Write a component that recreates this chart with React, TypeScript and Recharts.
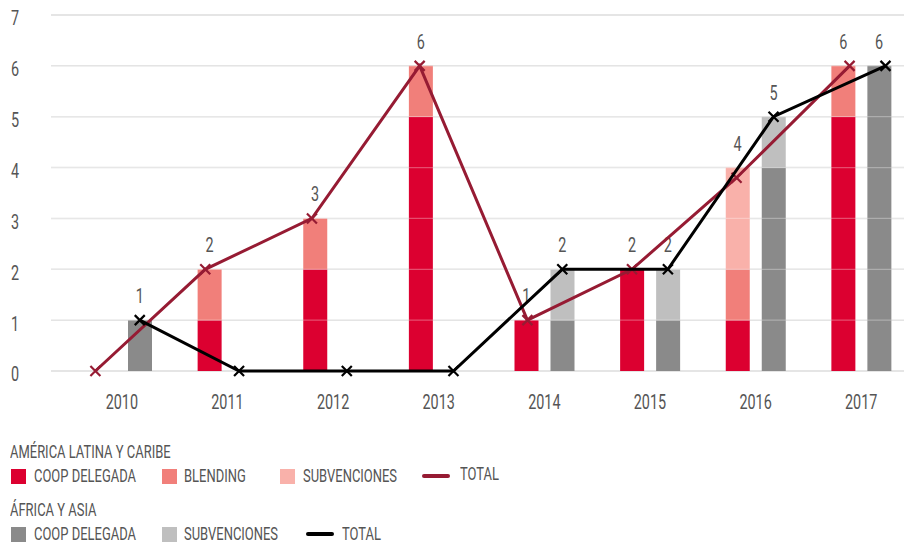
import { ComposedChart, Bar, Scatter, XAxis, YAxis, CartesianGrid, ReferenceLine } from 'recharts'

const years = ['2010', '2011', '2012', '2013', '2014', '2015', '2016', '2017']
const latamCoop = [0, 1, 2, 5, 1, 2, 1, 5]
const latamBlending = [0, 1, 1, 1, 0, 0, 1, 1]
const latamSubv = [0, 0, 0, 0, 0, 0, 2, 0]
const africaCoop = [1, 0, 0, 0, 1, 1, 4, 6]
const africaSubv = [0, 0, 0, 0, 1, 1, 1, 0]
// total lines, as drawn (x read in category units, 0 = 2010)
const latamLineX = [-0.25, 0.79, 1.8, 2.82, 3.84, 4.83, 5.82, 6.89]
const latamLineY = [0, 2, 3, 6, 1, 2, 3.8, 6]
const africaLineX = [0.17, 1.11, 2.13, 3.14, 4.17, 5.17, 6.17, 7.23]
const africaLineY = [1, 0, 0, 0, 2, 2, 5, 6]
const yTicks = [0, 1, 2, 3, 4, 5, 6, 7]

const FONT = 'Roboto, sans-serif'
const SX = 0.72 // squeeze to mimic the condensed face
const TEXT = '#555'
const RED = '#dc0030'
const SALMON = '#f17f7a'
const PINK = '#f9b1aa'
const WINE = '#961b33'
const GRAY = '#8a8a8a'
const LIGHTGRAY = '#bfbfbf'
const SHIFT = 0.17

const rows = years.map((year, i) => ({
  year,
  latamCoop: latamCoop[i],
  latamBlending: latamBlending[i],
  latamSubv: latamSubv[i],
  africaCoop: africaCoop[i],
  africaSubv: africaSubv[i],
}))

const latamPts = latamLineX.map((x, i) => ({ x, y: latamLineY[i] }))
const africaPts = africaLineX.map((x, i) => ({ x, y: africaLineY[i] }))

const latamLabels = years
  .map((_, i) => ({ x: i - SHIFT, y: latamCoop[i] + latamBlending[i] + latamSubv[i] }))
  .filter((d) => d.y > 0)
const africaLabels = years
  .map((_, i) => ({ x: i + SHIFT, y: africaCoop[i] + africaSubv[i] }))
  .filter((d) => d.y > 0)

function SqText({ x, y, anchor, dy, size, children }: any) {
  return (
    <g transform={`translate(${x},${y})`}>
      <text transform={`scale(${SX},1)`} textAnchor={anchor} dy={dy} fill={TEXT} fontSize={size} fontFamily={FONT}>
        {children}
      </text>
    </g>
  )
}

const XTick = (p: any) => (
  <SqText x={p.x} y={p.y} anchor="middle" dy="0.71em" size={20}>
    {p.payload.value}
  </SqText>
)
const YTick = (p: any) => (
  <SqText x={p.x} y={p.y} anchor="end" dy="0.52em" size={20}>
    {p.payload.value}
  </SqText>
)

function cross(color: string) {
  return (p: any) => (
    <path
      d={`M${p.cx - 5},${p.cy - 5}L${p.cx + 5},${p.cy + 5}M${p.cx - 5},${p.cy + 5}L${p.cx + 5},${p.cy - 5}`}
      stroke={color}
      strokeWidth={2.2}
      fill="none"
    />
  )
}

const totalLabel = (p: any) => (
  <SqText x={p.cx} y={p.cy - 17} anchor="middle" size={20}>
    {p.payload.y}
  </SqText>
)

const legendFont: React.CSSProperties = {
  position: 'absolute',
  fontFamily: FONT,
  fontSize: 18,
  lineHeight: '18px',
  color: TEXT,
  whiteSpace: 'nowrap',
  transform: `scaleX(${SX})`,
  transformOrigin: 'left top',
}

function Sq({ left, top, color }: { left: number; top: number; color: string }) {
  return <div style={{ position: 'absolute', left, top, width: 15, height: 15, background: color }} />
}
function Ln({ left, top, color }: { left: number; top: number; color: string }) {
  return <div style={{ position: 'absolute', left, top, width: 28, height: 4, borderRadius: 2, background: color }} />
}
function Txt({ left, top, children }: any) {
  return <div style={{ ...legendFont, left, top }}>{children}</div>
}

export default function App() {
  return (
    <div style={{ position: 'absolute', left: 0, top: 0, width: 904, height: 545, overflow: 'hidden', background: '#fff' }}>
      <ComposedChart width={914} height={420} data={rows} margin={{ top: 15, right: 0, bottom: 9, left: 0 }} barGap={12}>
        <CartesianGrid vertical={false} stroke="#dddddd" strokeWidth={1.5} />
        <XAxis
          dataKey="year"
          height={40}
          padding={{ left: 18, right: 0 }}
          axisLine={false}
          tickLine={false}
          tickMargin={18}
          tick={XTick}
        />
        <XAxis xAxisId="n" type="number" dataKey="x" domain={[-0.5, 7.5]} padding={{ left: 18, right: 0 }} allowDataOverflow hide />
        <YAxis
          width={51}
          domain={[0, 7]}
          ticks={yTicks}
          interval={0}
          axisLine={false}
          tickLine={false}
          tickMargin={26}
          tick={YTick}
        />
        <Bar dataKey="latamCoop" stackId="latam" fill={RED} barSize={24} isAnimationActive={false} />
        <Bar dataKey="latamBlending" stackId="latam" fill={SALMON} barSize={24} isAnimationActive={false} />
        <Bar dataKey="latamSubv" stackId="latam" fill={PINK} barSize={24} isAnimationActive={false} />
        <Bar dataKey="africaCoop" stackId="africa" fill={GRAY} barSize={24} isAnimationActive={false} />
        <Bar dataKey="africaSubv" stackId="africa" fill={LIGHTGRAY} barSize={24} isAnimationActive={false} />
        {yTicks.slice(1, 7).map((t) => (
          <ReferenceLine key={t} y={t} stroke="#ffffff" strokeOpacity={0.3} strokeWidth={1.2} />
        ))}
        <Scatter xAxisId="n" data={latamLabels} dataKey="y" shape={totalLabel} isAnimationActive={false} />
        <Scatter xAxisId="n" data={africaLabels} dataKey="y" shape={totalLabel} isAnimationActive={false} />
        <Scatter
          xAxisId="n"
          data={latamPts}
          dataKey="y"
          line={{ stroke: WINE, strokeWidth: 3 }}
          shape={cross(WINE)}
          isAnimationActive={false}
        />
        <Scatter
          xAxisId="n"
          data={africaPts}
          dataKey="y"
          line={{ stroke: '#000', strokeWidth: 3 }}
          shape={cross('#000')}
          isAnimationActive={false}
        />
      </ComposedChart>

      <Txt left={10} top={443}>AMÉRICA LATINA Y CARIBE</Txt>
      <Sq left={11} top={469} color={RED} />
      <Txt left={34} top={467}>COOP DELEGADA</Txt>
      <Sq left={162} top={469} color={SALMON} />
      <Txt left={184} top={467}>BLENDING</Txt>
      <Sq left={280} top={469} color={PINK} />
      <Txt left={303} top={467}>SUBVENCIONES</Txt>
      <Ln left={422} top={474} color={WINE} />
      <Txt left={460} top={465}>TOTAL</Txt>

      <Txt left={10} top={501}>ÁFRICA Y ASIA</Txt>
      <Sq left={11} top={527} color={GRAY} />
      <Txt left={34} top={525}>COOP DELEGADA</Txt>
      <Sq left={162} top={527} color={LIGHTGRAY} />
      <Txt left={184} top={525}>SUBVENCIONES</Txt>
      <Ln left={306} top={532} color="#000" />
      <Txt left={342} top={525}>TOTAL</Txt>
    </div>
  )
}
